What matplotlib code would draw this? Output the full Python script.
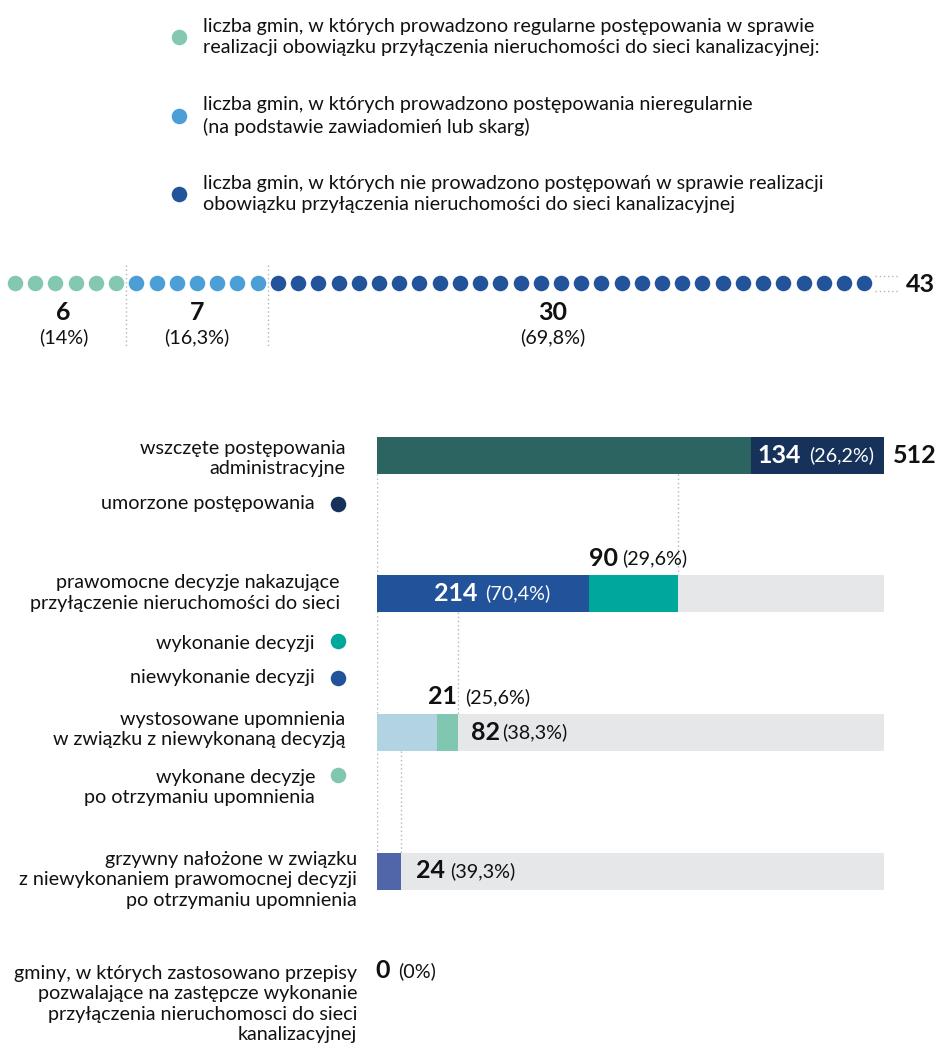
import numpy as np
import matplotlib.pyplot as plt

plt.rcParams['font.family'] = ['Lato', 'DejaVu Sans']

# --- data: gminy (dot row) ---
group_counts = [6, 7, 30]
group_pcts = ['(14%)', '(16,3%)', '(69,8%)']
group_colors = ['#84c8b1', '#4b9fd6', '#22539b']
group_legend = [
    'liczba gmin, w których prowadzono regularne postępowania w sprawie\n'
    'realizacji obowiązku przyłączenia nieruchomości do sieci kanalizacyjnej:',
    'liczba gmin, w których prowadzono postępowania nieregularnie\n'
    '(na podstawie zawiadomień lub skarg)',
    'liczba gmin, w których nie prowadzono postępowań w sprawie realizacji\n'
    'obowiązku przyłączenia nieruchomości do sieci kanalizacyjnej',
]

# --- data: postepowania (bars) ---
started = 512
discontinued = 134
not_executed = 214
executed = 90
warnings = 82
executed_after_warning = 21
fines = 24
substitute = 0
pct_discontinued = '(26,2%)'
pct_not_executed = '(70,4%)'
pct_executed = '(29,6%)'
pct_warnings = '(38,3%)'
pct_after_warning = '(25,6%)'
pct_fines = '(39,3%)'
pct_substitute = '(0%)'

TXT = '#111111'
DOT_LINE = '#b5b5b5'
GRAY = '#e6e7e9'
FS = 14.2      # regular text
FS_NUM = 18    # bold numbers
DOT_S = 125

fig = plt.figure(figsize=(9.36, 10.48), dpi=100)

# overlay axes in pixel units for free text
ov = fig.add_axes([0, 0, 1, 1])
ov.set_xlim(0, 936)
ov.set_ylim(1048, 0)
ov.axis('off')

# ---------------- legend at the top ----------------
leg_y = [37, 116, 194]
for txt, col, y in zip(group_legend, group_colors, leg_y):
    ov.scatter([179], [y], s=DOT_S, color=col, linewidths=0, zorder=3)
    ov.text(203, y, txt, ha='left', va='center', fontsize=FS,
            color=TXT, linespacing=1.3)

# ---------------- dot row ----------------
total = sum(group_counts)
step = 20.22
axd = fig.add_axes([0, 0, 1, 1])
axd.set_xlim(-15 / step, (936 - 15) / step)
axd.set_ylim(1048, 0)
axd.axis('off')

row_y = 283
start = 0
label_pos = [2.4, 9.0, 26.6]
for n, pct, col, lx in zip(group_counts, group_pcts, group_colors, label_pos):
    idx = np.arange(start, start + n)
    axd.scatter(idx, np.full(n, row_y), s=DOT_S, color=col, linewidths=0, zorder=3)
    axd.text(lx, 312, str(n), ha='center', va='center', fontsize=FS_NUM,
             fontweight='bold', color=TXT)
    axd.text(lx, 337, pct, ha='center', va='center', fontsize=FS, color=TXT)
    start += n
    if start < total:
        axd.vlines(start - 0.5, 265, 348, colors=DOT_LINE, linestyles=(0, (1, 2)), lw=1)

axd.hlines([276, 291], total - 0.45, total + 0.7, colors=DOT_LINE,
           linestyles=(0, (1, 2)), lw=1)
ov.text(935, 284, str(total), ha='right', va='center', fontsize=FS_NUM,
        fontweight='bold', color=TXT)

# ---------------- bars ----------------
ax = fig.add_axes([377 / 936, 0, 507 / 936, 1])
ax.set_xlim(0, started)
ax.set_ylim(1048, 0)
ax.axis('off')

bar_y = [455.5, 593.5, 732, 871]
h = 37

# row 1: started / discontinued
ax.barh(bar_y[0], started - discontinued, height=h, left=0, color='#2b6460')
ax.barh(bar_y[0], discontinued, height=h, left=started - discontinued, color='#17325a')
# row 2: final decisions
ax.barh(bar_y[1], started, height=h, color=GRAY)
ax.barh(bar_y[1], not_executed, height=h, color='#22539a')
ax.barh(bar_y[1], executed, height=h, left=not_executed, color='#00a89c')
# row 3: warnings
ax.barh(bar_y[2], started, height=h, color=GRAY)
ax.barh(bar_y[2], warnings - executed_after_warning, height=h, color='#b1d3e2')
ax.barh(bar_y[2], executed_after_warning, height=h,
        left=warnings - executed_after_warning, color='#80c6b0')
# row 4: fines
ax.barh(bar_y[3], started, height=h, color=GRAY)
ax.barh(bar_y[3], fines, height=h, color='#5066a9')

# dotted guides
ls = (0, (1, 2))
ax.vlines(0, bar_y[0] + h / 2, bar_y[3] - h / 2, colors=DOT_LINE, linestyles=ls, lw=1, zorder=0)
ax.vlines(not_executed + executed, bar_y[0] + h / 2, bar_y[1] - h / 2,
          colors=DOT_LINE, linestyles=ls, lw=1, zorder=0)
ax.vlines(warnings, bar_y[1] + h / 2, bar_y[2] - h / 2, colors=DOT_LINE, linestyles=ls, lw=1, zorder=0)
ax.vlines(fines, bar_y[2] + h / 2, bar_y[3] - h / 2, colors=DOT_LINE, linestyles=ls, lw=1, zorder=0)


def value_label(x, y, num, pct, dx_num, dx_pct, color=TXT):
    ax.annotate(str(num), (x, y), xytext=(dx_num, 0), textcoords='offset pixels',
                ha='right', va='center', fontsize=FS_NUM, fontweight='bold', color=color)
    ax.annotate(pct, (x, y), xytext=(dx_pct, 0), textcoords='offset pixels',
                ha='left', va='center', fontsize=FS, color=color)


mid_disc = started - discontinued / 2
value_label(mid_disc, bar_y[0], discontinued, pct_discontinued, -17, -9, color='white')
ax.annotate(str(started), (started, bar_y[0]), xytext=(9, 0), textcoords='offset pixels',
            ha='left', va='center', fontsize=FS_NUM, fontweight='bold', color=TXT)

value_label(not_executed / 2, bar_y[1], not_executed, pct_not_executed, -5, 2, color='white')
value_label(not_executed, 558, executed, pct_executed, 29, 33)

value_label(warnings - executed_after_warning, 697, executed_after_warning,
            pct_after_warning, 20, 28)
value_label(warnings, bar_y[2], warnings, pct_warnings, 42, 44)
value_label(fines, bar_y[3], fines, pct_fines, 44, 49)
value_label(substitute, 971, substitute, pct_substitute, 13, 21)

# ---------------- left labels ----------------
row_labels = [
    'wszczęte postępowania\nadministracyjne',
    'prawomocne decyzje nakazujące\nprzyłączenie nieruchomości do sieci',
    'wystosowane upomnienia\nw związku z niewykonaną decyzją',
    'grzywny nałożone w związku\nz niewykonaniem prawomocnej decyzji\npo otrzymaniu upomnienia',
    'gminy, w których zastosowano przepisy\npozwalające na zastępcze wykonanie\n'
    'przyłączenia nieruchomosci do sieci\nkanalizacyjnej',
]
row_label_y = [458.5, 593, 729.5, 880, 1004]
row_label_x = [345, 340, 345, 357, 357]
for txt, x, y in zip(row_labels, row_label_x, row_label_y):
    ov.text(x, y, txt, ha='right', va='center', ma='right', fontsize=FS,
            color=TXT, linespacing=1.25)

key_labels = ['umorzone postępowania', 'wykonanie decyzji', 'niewykonanie decyzji',
              'wykonane decyzje\npo otrzymaniu upomnienia']
key_colors = ['#17325a', '#00a89c', '#22539a', '#80c6b0']
key_y = [503, 643, 677, 787.5]
key_dot_y = [504, 641, 678, 775]
for txt, col, y, dy in zip(key_labels, key_colors, key_y, key_dot_y):
    ov.text(315, y, txt, ha='right', va='center', ma='right', fontsize=FS,
            color=TXT, linespacing=1.25)
    ov.scatter([338], [dy], s=DOT_S, color=col, linewidths=0, zorder=3)

fig.savefig('out.png', dpi=100)
